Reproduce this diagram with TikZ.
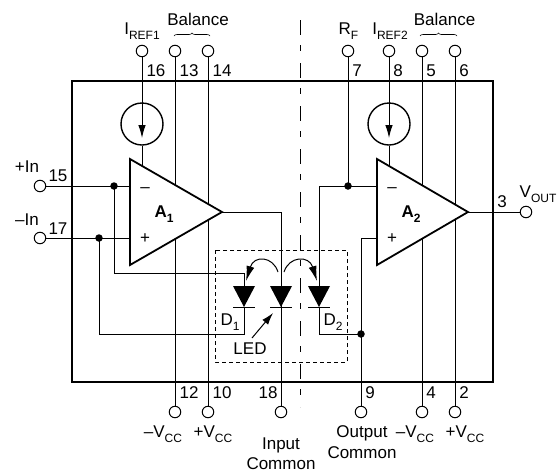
\documentclass[tikz,border=0pt]{standalone}
\usepackage{fontspec}
\setmainfont{Liberation Sans}
\usetikzlibrary{arrows.meta,decorations.pathreplacing}
\newcommand{\lowtxt}[1]{\raisebox{-0.3em}{\fontsize{12}{12}\selectfont #1}}
\tikzstyle{term}=[shape=circle, draw, fill=white, inner sep=0pt, minimum size=11.5pt, line width=1pt]
\tikzstyle{srcring}=[shape=circle, draw, fill=white, inner sep=0pt, minimum size=42pt, line width=1.4pt]
\tikzstyle{junct}=[shape=circle, fill=black, inner sep=0pt, minimum size=7.5pt]
\tikzstyle{lab}=[inner sep=0pt, anchor=base, font=\fontsize{17}{20}\selectfont]
\tikzstyle{wire}=[line width=1pt]
\tikzstyle{heavy}=[line width=1.8pt]
\tikzstyle{headtip}=[-{Latex[length=13pt,width=7.5pt]}]
\tikzstyle{balbrace}=[line width=0.6pt, decorate, decoration={brace,amplitude=3pt}]
\begin{document}
\begin{tikzpicture}[x=1pt,y=-1pt]
\useasboundingbox (0,0) rectangle (559,472);
\draw[heavy] (72,81) rectangle (493,382);

% dashed centre line and LED box
\coordinate (ctop) at (300,20);
\coordinate (cbot) at (300,407);
\draw[line width=0.9pt, dash pattern=on 15pt off 10pt on 6pt off 12pt] (ctop) -- (cbot);
\draw[line width=0.8pt, dash pattern=on 4pt off 3pt] (215,250) rectangle (347,362);

% terminals
\draw (142,51) node[term] (t16) {};
\draw (175,51) node[term] (t13) {};
\draw (208,51) node[term] (t14) {};
\draw (348,51) node[term] (t7) {};
\draw (389,51) node[term] (t8) {};
\draw (422,51) node[term] (t5) {};
\draw (455,51) node[term] (t6) {};
\draw (40,186) node[term] (t15) {};
\draw (40,238) node[term] (t17) {};
\draw (526,212) node[term] (t3) {};
\draw (175,412) node[term] (t12) {};
\draw (208,412) node[term] (t10) {};
\draw (281,412) node[term] (t18) {};
\draw (361,412) node[term] (t9) {};
\draw (422,412) node[term] (t4) {};
\draw (455,412) node[term] (t2) {};

% current sources
\draw (142,124) node[srcring] (src1) {};
\draw (389,124) node[srcring] (src2) {};
\coordinate (a1in) at (142,180);
\coordinate (a2in) at (389,180);
\coordinate (tip1) at (142,138);
\coordinate (tip2) at (389,138);

% junctions
\coordinate (n1) at (114,186);
\coordinate (n2) at (99,238);
\coordinate (n3) at (348,186);
\coordinate (n4) at (361,334);
\coordinate (a1o) at (222,212);
\coordinate (a2o) at (468,212);
\coordinate (a1m) at (130,186);
\coordinate (a1p) at (130,238);
\coordinate (a2m) at (377,186);
\coordinate (a2p) at (377,238);

% wires
\draw[wire] (t16) -- (src1);
\draw[wire] (src1) -- (a1in);
\draw[wire] (t8) -- (src2);
\draw[wire] (src2) -- (a2in);
\draw[wire] (t13) -- (t12);
\draw[wire] (t14) -- (t10);
\draw[wire] (t5) -- (t4);
\draw[wire] (t6) -- (t2);
\draw[wire] (t15) -- (a1m);
\draw[wire] (t17) -- (a1p);
\draw[wire] (t7) -- (n3);
\draw[wire] (n3) -- (a2m);
\draw[wire] (n3) -| (319,286);
\draw[wire] (n1) |- (244,273) -- (244,286);
\draw[wire] (n2) |- (244,334) -- (244,307);
\draw[wire] (319,307) |- (n4);
\draw[wire] (a1o) -| (t18);
\draw[wire] (a2p) -| (t9);
\draw[wire] (a2o) -- (t3);
\draw[wire, headtip] (src1.north) -- (tip1);
\draw[wire, headtip] (src2.north) -- (tip2);

\draw (n1) node[junct] (d1) {};
\draw (n2) node[junct] (d2) {};
\draw (n3) node[junct] (d3) {};
\draw (n4) node[junct] (d4) {};

% amplifiers
\draw[heavy, fill=white, line join=miter] (130,159) -- (a1o) -- (130,265) -- cycle;
\draw[heavy, fill=white, line join=miter] (377,159) -- (a2o) -- (377,265) -- cycle;

% diodes
\begin{scope}[xshift=244pt]
\fill (-11,286) -- (11,286) -- (0,307) -- cycle;
\draw[wire] (-11,307) -- (11,307);
\end{scope}

\begin{scope}[xshift=281pt]
\fill (-11,286) -- (11,286) -- (0,307) -- cycle;
\draw[wire] (-11,307) -- (11,307);
\end{scope}

\begin{scope}[xshift=319pt]
\fill (-11,286) -- (11,286) -- (0,307) -- cycle;
\draw[wire] (-11,307) -- (11,307);
\end{scope}

% light arrows
\draw[wire, -{Latex[length=15pt,width=8pt]}] (278,272) .. controls (273,256) and (254,255) .. (246,281);
\draw[wire, -{Latex[length=15pt,width=8pt]}] (284,272) .. controls (289,256) and (309,255) .. (317,281);
\draw[wire, -{Latex[length=12pt,width=7.5pt]}] (252,338) -- (273,313);

% braces
\draw[balbrace] (174,36) -- (210,36);
\draw[balbrace] (420,36) -- (457,36);

% labels
\draw (142,34) node[lab] (lref1) {I\lowtxt{REF1}};
\draw (198,25) node[lab] (lbal1) {Balance};
\draw (348.5,34) node[lab] (lrf) {R\lowtxt{F}};
\draw (390,34) node[lab] (lref2) {I\lowtxt{REF2}};
\draw (444.5,25) node[lab] (lbal2) {Balance};
\draw (156,76) node[lab] (l16) {16};
\draw (189,76) node[lab] (l13) {13};
\draw (222,76) node[lab] (l14) {14};
\draw (357,76) node[lab] (l7) {7};
\draw (398,76) node[lab] (l8) {8};
\draw (431,76) node[lab] (l5) {5};
\draw (464,76) node[lab] (l6) {6};
\draw (27,172) node[lab] (lpin) {+In};
\draw (27,225) node[lab] (lmin) {–In};
\draw (58,181) node[lab] (l15) {15};
\draw (58,234) node[lab] (l17) {17};
\draw (164,217) node[lab, font=\fontsize{17}{20}\selectfont\bfseries] (la1) {A\lowtxt{1}};
\draw (411,217) node[lab, font=\fontsize{17}{20}\selectfont\bfseries] (la2) {A\lowtxt{2}};
\draw (145,192) node[lab] (lm1) {–};
\draw (145,243) node[lab] (lp1) {+};
\draw (392,192) node[lab] (lm2) {–};
\draw (392,243) node[lab] (lp2) {+};
\draw (502,207) node[lab] (l3) {3};
\draw (538,197) node[lab] (lvout) {V\lowtxt{OUT}};
\draw (230,325) node[lab] (ld1) {D\lowtxt{1}};
\draw (333,325) node[lab] (ld2) {D\lowtxt{2}};
\draw (250,354) node[lab] (lled) {LED};
\draw (189,398.5) node[lab] (l12) {12};
\draw (222,398.5) node[lab] (l10) {10};
\draw (268,398.5) node[lab] (l18) {18};
\draw (370,398.5) node[lab] (l9) {9};
\draw (431,398.5) node[lab] (l4) {4};
\draw (464,398.5) node[lab] (l2) {2};
\draw (163,437) node[lab] (lvm1) {–V\lowtxt{CC}};
\draw (213,437) node[lab] (lvp1) {+V\lowtxt{CC}};
\draw (415,437) node[lab] (lvm2) {–V\lowtxt{CC}};
\draw (465,437) node[lab] (lvp2) {+V\lowtxt{CC}};
\draw (281,449) node[lab] (lin1) {Input};
\draw (281,469) node[lab] (lin2) {Common};
\draw (362,437) node[lab] (lout1) {Output};
\draw (362,458) node[lab] (lout2) {Common};
\end{tikzpicture}
\end{document}
